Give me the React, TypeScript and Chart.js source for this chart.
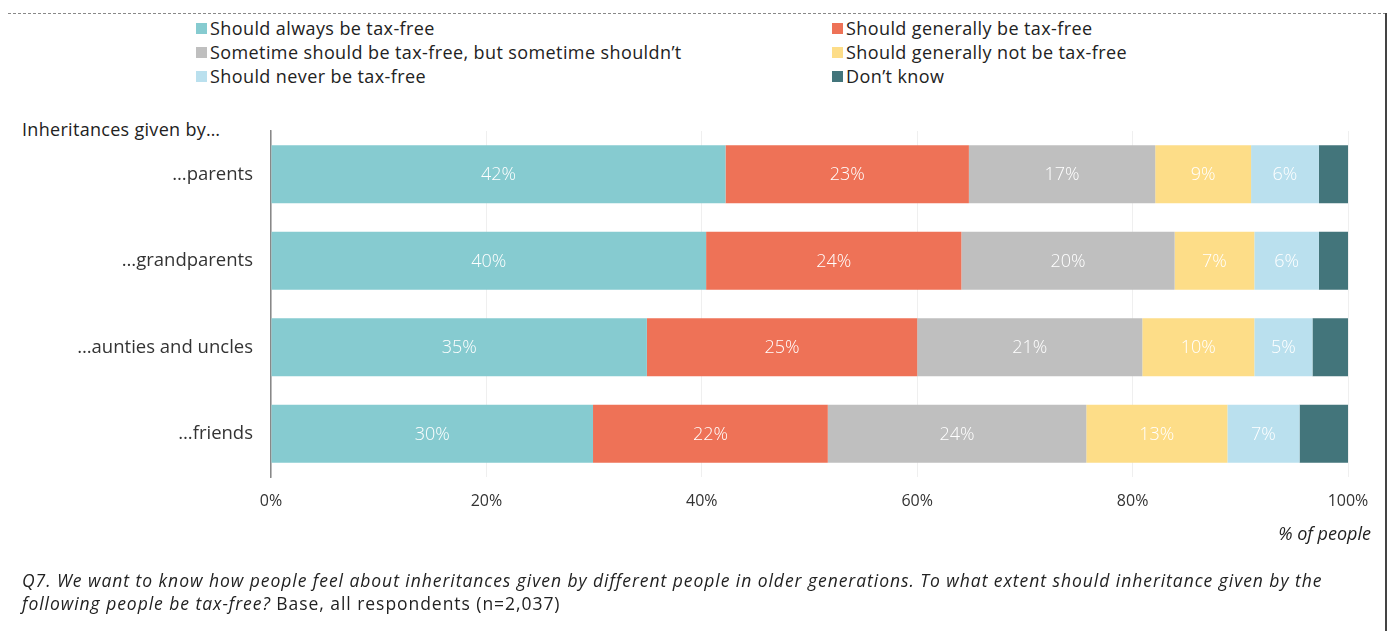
import React, { useEffect, useRef } from "react";
import { Chart, registerables } from "chart.js";

Chart.register(...registerables);

const categories = ["…parents", "…grandparents", "…aunties and uncles", "…friends"];
const seriesNames = [
  "Should always be tax-free",
  "Should generally be tax-free",
  "Sometime should be tax-free, but sometime shouldn’t",
  "Should generally not be tax-free",
  "Should never be tax-free",
  "Don’t know",
];
const alwaysTaxFree = [42.2, 40.4, 34.9, 29.9];
const generallyTaxFree = [22.6, 23.7, 25.1, 21.8];
const sometimes = [17.3, 19.8, 20.9, 24.0];
const generallyNot = [8.9, 7.4, 10.4, 13.1];
const never = [6.3, 6.0, 5.4, 6.7];
const dontKnow = [2.7, 2.7, 3.3, 4.5];
const seriesColors = ["#86CBD0", "#EE7257", "#BFBFBF", "#FDDD88", "#BAE0EE", "#43757B"];
const xTicks = ["0%", "20%", "40%", "60%", "80%", "100%"];

const FONT = "'Open Sans', 'Noto Sans', sans-serif";

const labelPlugin = {
  id: "segLabels",
  afterDatasetsDraw(chart: any) {
    const ctx = chart.ctx;
    ctx.save();
    ctx.font = `300 18px ${FONT}`;
    ctx.fillStyle = "#ffffff";
    ctx.textAlign = "center";
    ctx.textBaseline = "middle";
    chart.data.datasets.forEach((ds: any, di: number) => {
      if (di >= 5) return;
      const meta = chart.getDatasetMeta(di);
      meta.data.forEach((el: any, i: number) => {
        const v = ds.data[i];
        const p = el.getProps(["x", "y", "base"], true);
        ctx.fillText(`${Math.round(v)}%`, (p.x + p.base) / 2, p.y + 1);
      });
    });
    ctx.restore();
  },
};

export default function App() {
  const ref = useRef<HTMLCanvasElement>(null);
  useEffect(() => {
    if (!ref.current) return;
    const values = [alwaysTaxFree, generallyTaxFree, sometimes, generallyNot, never, dontKnow];
    const chart = new Chart(ref.current, {
      type: "bar",
      data: {
        labels: categories,
        datasets: values.map((d, i) => ({
          label: seriesNames[i],
          data: d,
          backgroundColor: seriesColors[i],
          borderWidth: 0,
          barPercentage: 0.67,
          categoryPercentage: 1,
        })),
      },
      options: {
        indexAxis: "y",
        animation: false,
        responsive: false,
        maintainAspectRatio: false,
        layout: { padding: { top: 131, right: 41, bottom: 0, left: 0 } },
        plugins: { legend: { display: false }, tooltip: { enabled: false } },
        scales: {
          x: {
            stacked: true,
            min: 0,
            max: 100,
            afterFit: (s: any) => { s.height = 154; },
            ticks: {
              stepSize: 20,
              padding: 15,
              color: "#333333",
              font: { family: FONT, size: 16 },
              callback: (_v: any, i: number) => xTicks[i],
              maxRotation: 0,
            },
            grid: { color: "#EFEFEF", drawTicks: false, lineWidth: 1 },
            border: { display: false },
          },
          y: {
            stacked: true,
            afterFit: (s: any) => { s.width = 271; },
            ticks: {
              padding: 18,
              color: "#333333",
              font: { family: FONT, size: 18.5 },
            },
            grid: { display: false, drawTicks: false },
            border: { display: true, color: "#888888", width: 1.5 },
          },
        },
      },
      plugins: [labelPlugin],
    });
    return () => chart.destroy();
  }, []);

  const legendItem = (i: number, x: number, y: number) => (
    <div key={i} style={{ position: "absolute", left: x, top: y, display: "flex", alignItems: "center", whiteSpace: "nowrap" }}>
      <span style={{ display: "inline-block", width: 11, height: 11, background: seriesColors[i], marginRight: 3 }} />
      <span style={{ fontSize: 18, letterSpacing: "0.4px", color: "#222", fontFamily: FONT }}>{seriesNames[i]}</span>
    </div>
  );

  return (
    <div style={{ position: "fixed", left: 0, top: 0, width: 1389, height: 631, background: "#fff", fontFamily: FONT }}>
      <div style={{ position: "absolute", left: 8, top: 13, width: 1378, borderTop: "1.5px dashed #888" }} />
      <div style={{ position: "absolute", left: 1385, top: 13, width: 1.5, height: 618, background: "#444" }} />
      {legendItem(0, 196, 16)}
      {legendItem(1, 832, 16)}
      {legendItem(2, 196, 40)}
      {legendItem(3, 832, 40)}
      {legendItem(4, 196, 64)}
      {legendItem(5, 832, 64)}
      <div style={{ position: "absolute", left: 22, top: 117, fontSize: 18, color: "#222", letterSpacing: "0.3px" }}>Inheritances given by…</div>
      <canvas ref={ref} width={1389} height={631} style={{ position: "absolute", left: 0, top: 0, width: 1389, height: 631 }} />
      <div style={{ position: "absolute", right: 18, top: 521, fontSize: 18, fontStyle: "italic", color: "#222" }}>% of people</div>
      <div style={{ position: "absolute", left: 22, top: 569, fontSize: 17.5, color: "#222", lineHeight: "23px", width: 1360, whiteSpace: "nowrap", letterSpacing: "0.95px" }}>
        <i>Q7. We want to know how people feel about inheritances given by different people in older generations. To what extent should inheritance given by the</i>
        <br />
        <i>following people be tax-free?</i> Base, all respondents (n=2,037)
      </div>
    </div>
  );
}
